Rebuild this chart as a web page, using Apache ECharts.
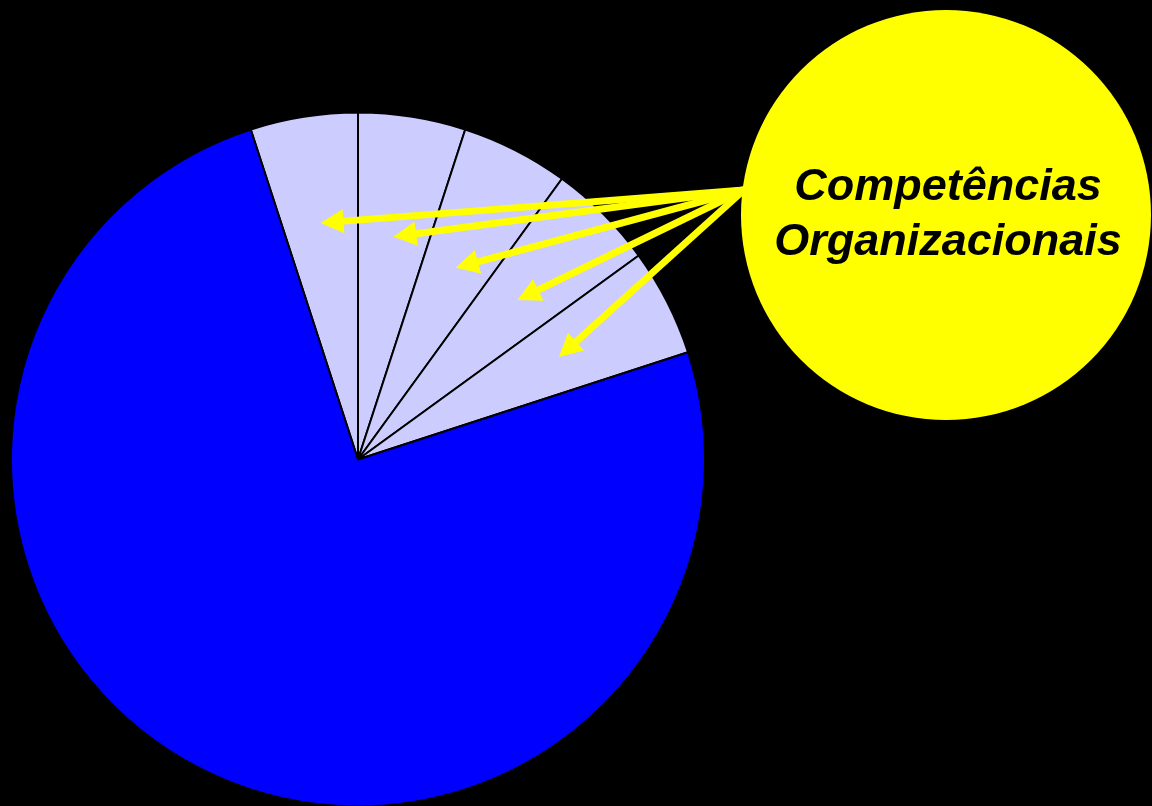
<!DOCTYPE html>
<html>
<head>
<meta charset="utf-8">
<script src="https://cdn.jsdelivr.net/npm/echarts@6/dist/echarts.min.js"></script>
<style>
  html, body { margin: 0; padding: 0; background: #000; }
  #chart { width: 1152px; height: 806px; }
</style>
</head>
<body>
<div id="chart"></div>
<script>
// Slice names and shares (percent of the whole)
const categories = [
  'Competência organizacional 1',
  'Competência organizacional 2',
  'Competência organizacional 3',
  'Competência organizacional 4',
  'Competência organizacional 5',
  'Demais'
];
const values = [5, 5, 5, 5, 5, 75];
const sliceColors = ['#CCCCFF', '#CCCCFF', '#CCCCFF', '#CCCCFF', '#CCCCFF', '#0000FF'];

// Callout text and which slices it points at
const calloutLines = ['Competências', 'Organizacionais'];
const pointedSlices = [0, 1, 2, 3, 4];
// how far along each slice's mid-radius the arrow tip sits (fraction of radius)
const tipDepth = [0.69, 0.65, 0.62, 0.65, 0.65];

const chart = echarts.init(document.getElementById('chart'), null, { renderer: 'canvas' });

chart.setOption({
  backgroundColor: '#000000',
  animation: false,
  series: [{
    type: 'pie',
    center: [358, 459.5],
    radius: 347,
    startAngle: 108,
    clockwise: true,
    label: { show: false },
    labelLine: { show: false },
    emphasis: { disabled: true },
    itemStyle: { borderColor: '#000000', borderWidth: 2 },
    data: categories.map((name, i) => ({
      name: name,
      value: values[i],
      itemStyle: { color: sliceColors[i] }
    }))
  }]
});

// Callout bubble geometry
const bubble = { cx: 946, cy: 215, r: 205 };
const arrowFrom = [744, 190];
const shaftWidth = 7;
const headLen = 23;
const headHalf = 12;

const pieData = chart.getModel().getSeriesByIndex(0).getData();
const graphics = [];

pointedSlices.forEach((idx, k) => {
  const lay = pieData.getItemLayout(idx);
  const mid = (lay.startAngle + lay.endAngle) / 2;
  const rr = lay.r * tipDepth[k];
  const tip = [lay.cx + Math.cos(mid) * rr, lay.cy + Math.sin(mid) * rr];
  const dx = tip[0] - arrowFrom[0];
  const dy = tip[1] - arrowFrom[1];
  const len = Math.sqrt(dx * dx + dy * dy);
  const ux = dx / len, uy = dy / len;
  const base = [tip[0] - ux * headLen, tip[1] - uy * headLen];
  graphics.push({
    type: 'line',
    z: 10,
    shape: { x1: arrowFrom[0], y1: arrowFrom[1], x2: base[0] + ux * 2, y2: base[1] + uy * 2 },
    style: { stroke: '#FFFF00', lineWidth: shaftWidth, lineCap: 'butt' },
    silent: true
  });
  graphics.push({
    type: 'polygon',
    z: 10,
    shape: {
      points: [
        tip,
        [base[0] - uy * headHalf, base[1] + ux * headHalf],
        [base[0] + uy * headHalf, base[1] - ux * headHalf]
      ]
    },
    style: { fill: '#FFFF00' },
    silent: true
  });
});

graphics.push({
  type: 'circle',
  z: 20,
  shape: { cx: bubble.cx, cy: bubble.cy, r: bubble.r },
  style: { fill: '#FFFF00' },
  silent: true
});

const lineYs = [188, 243];
calloutLines.forEach((t, i) => {
  graphics.push({
    type: 'text',
    z: 30,
    x: 948,
    y: lineYs[i],
    style: {
      text: t,
      fill: '#000000',
      font: 'italic bold 45px "Liberation Sans", Arial, sans-serif',
      align: 'center',
      verticalAlign: 'middle'
    },
    silent: true
  });
});

chart.setOption({ graphic: graphics });
</script>
</body>
</html>
